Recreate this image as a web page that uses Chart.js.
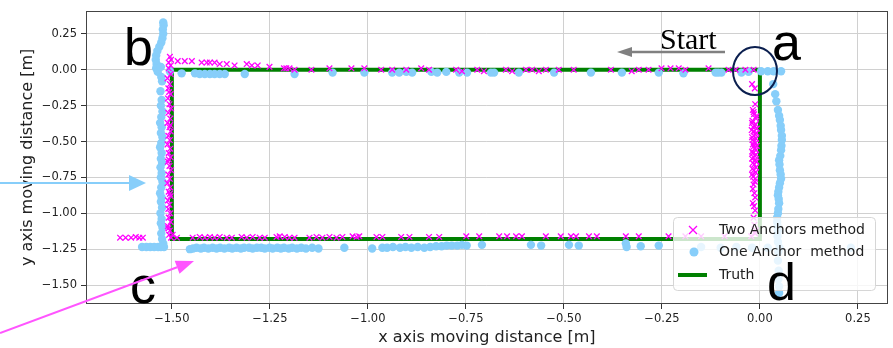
<!DOCTYPE html>
<html>
<head>
<meta charset="utf-8">
<script src="https://cdn.jsdelivr.net/npm/chart.js@4.4.0/dist/chart.umd.min.js"></script>
<style>
  html, body { margin: 0; padding: 0; background: #fff; }
  #wrap { width: 893px; height: 348px; position: relative; }
</style>
</head>
<body>
<div id="wrap"><canvas id="trackChart"></canvas></div>
<script>
// tick labels
const xTicks = [-1.5, -1.25, -1.0, -0.75, -0.5, -0.25, 0.0, 0.25];
const yTicks = [0.25, 0.0, -0.25, -0.5, -0.75, -1.0, -1.25, -1.5];

// ground truth rectangle
const truthPath = [[0, 0], [-1.5, 0], [-1.5, -1.18], [0, -1.18], [0, 0]];

// Two Anchors method
const twoAnchorsLeft = [
  [-1.505, 0.09], [-1.502, 0.07], [-1.508, 0.05], [-1.503, 0.03], [-1.508, 0.01], [-1.503, -0.03],
  [-1.511, -0.06], [-1.505, -0.10], [-1.509, -0.13], [-1.503, -0.17], [-1.510, -0.20], [-1.506, -0.24],
  [-1.502, -0.27], [-1.509, -0.30], [-1.504, -0.34], [-1.511, -0.37], [-1.506, -0.40], [-1.503, -0.43],
  [-1.509, -0.46], [-1.505, -0.49], [-1.511, -0.52], [-1.504, -0.55], [-1.508, -0.58], [-1.503, -0.61],
  [-1.510, -0.64], [-1.506, -0.67], [-1.502, -0.70], [-1.509, -0.73], [-1.505, -0.76], [-1.511, -0.79],
  [-1.504, -0.82], [-1.508, -0.85], [-1.503, -0.88], [-1.510, -0.91], [-1.506, -0.94], [-1.509, -0.97],
  [-1.504, -1.00], [-1.508, -1.03], [-1.503, -1.06], [-1.510, -1.09], [-1.505, -1.12], [-1.507, -1.15],
  [-1.502, -1.17], [-1.507, -0.155], [-1.504, -0.385], [-1.508, -0.625], [-1.505, -0.865], [-1.509, -1.105]
];
const twoAnchorsTop = [
  [-1.485, 0.06], [-1.467, 0.06], [-1.449, 0.06], [-1.424, 0.05], [-1.411, 0.05], [-1.403, 0.05],
  [-1.391, 0.05], [-1.378, 0.04], [-1.360, 0.04], [-1.340, 0.03], [-1.309, 0.04], [-1.296, 0.03],
  [-1.281, 0.03], [-1.251, 0.02], [-1.214, 0.01], [-1.208, 0.01], [-1.200, 0.01], [-1.187, 0.0],
  [-1.144, 0.0], [-1.098, 0.01], [-1.042, 0.01], [-1.009, 0.01], [-0.966, 0.0], [-0.938, 0.0],
  [-0.902, 0.0], [-0.864, 0.01], [-0.844, 0.0], [-0.775, 0.0], [-0.760, -0.01], [-0.721, 0.0],
  [-0.704, -0.01], [-0.648, 0.0], [-0.632, -0.01], [-0.597, 0.0], [-0.581, 0.0], [-0.564, -0.01],
  [-0.546, 0.0], [-0.513, 0.0], [-0.475, 0.0], [-0.380, 0.0], [-0.327, -0.01], [-0.309, 0.0],
  [-0.284, 0.0], [-0.251, 0.01], [-0.228, 0.01], [-0.207, 0.01], [-0.190, 0.0], [-0.131, 0.01],
  [-0.080, 0.0], [-0.062, 0.0], [-0.037, 0.0], [-0.016, 0.0]
];
const twoAnchorsRight = [
  [-0.020, -0.10], [-0.013, -0.13], [-0.012, -0.24], [-0.018, -0.28], [-0.015, -0.31], [-0.010, -0.34],
  [-0.020, -0.37], [-0.014, -0.39], [-0.008, -0.41], [-0.016, -0.43], [-0.012, -0.45], [-0.020, -0.47],
  [-0.010, -0.48], [-0.015, -0.50], [-0.018, -0.52], [-0.008, -0.53], [-0.013, -0.55], [-0.020, -0.57],
  [-0.010, -0.59], [-0.016, -0.61], [-0.012, -0.63], [-0.018, -0.65], [-0.010, -0.68], [-0.015, -0.70],
  [-0.020, -0.73], [-0.012, -0.76], [-0.016, -0.80], [-0.014, -0.86], [-0.018, -0.93], [-0.012, -0.98],
  [-0.016, -1.03], [-0.014, -1.08], [-0.010, -1.12],
  [-0.016, -0.295], [-0.009, -0.325], [-0.019, -0.355], [-0.011, -0.38], [-0.017, -0.40], [-0.021, -0.42],
  [-0.009, -0.44], [-0.015, -0.46], [-0.019, -0.49], [-0.011, -0.51], [-0.016, -0.535], [-0.010, -0.56],
  [-0.018, -0.58], [-0.013, -0.60], [-0.020, -0.62], [-0.009, -0.64], [-0.014, -0.66], [-0.019, -0.69],
  [-0.011, -0.715], [-0.017, -0.745], [-0.013, -0.78], [-0.018, -0.83], [-0.012, -0.89], [-0.015, -0.95]
];
const twoAnchorsBottom = [
  [-1.632, -1.17], [-1.618, -1.17], [-1.604, -1.17], [-1.592, -1.165], [-1.583, -1.17], [-1.574, -1.17],
  [-1.498, -1.15], [-1.487, -1.17], [-1.447, -1.17], [-1.429, -1.165], [-1.416, -1.17], [-1.403, -1.165],
  [-1.391, -1.17], [-1.378, -1.165], [-1.360, -1.17], [-1.347, -1.17], [-1.322, -1.165], [-1.309, -1.17],
  [-1.294, -1.165], [-1.276, -1.17], [-1.263, -1.17], [-1.233, -1.165], [-1.225, -1.16], [-1.212, -1.165],
  [-1.200, -1.17], [-1.187, -1.17], [-1.149, -1.17], [-1.131, -1.165], [-1.116, -1.17], [-1.098, -1.165],
  [-1.080, -1.17], [-1.065, -1.165], [-1.039, -1.16], [-1.029, -1.165], [-1.022, -1.16], [-0.978, -1.165],
  [-0.963, -1.165], [-0.915, -1.165], [-0.894, -1.165], [-0.844, -1.165], [-0.818, -1.165], [-0.749, -1.16],
  [-0.716, -1.16], [-0.665, -1.16], [-0.645, -1.16], [-0.622, -1.16], [-0.607, -1.16], [-0.546, -1.16],
  [-0.508, -1.16], [-0.482, -1.16], [-0.469, -1.16], [-0.436, -1.16], [-0.416, -1.16], [-0.342, -1.16],
  [-0.309, -1.16], [-0.233, -1.16], [-0.190, -1.16], [-0.150, -1.16], [-0.090, -1.16], [-0.022, -1.16],
  [-0.012, -1.14]
];

// One Anchor method
const oneAnchorLeft = [
  [-1.522, 0.33], [-1.521, 0.31], [-1.523, 0.28], [-1.522, 0.25], [-1.524, 0.22], [-1.527, 0.19],
  [-1.532, 0.16], [-1.537, 0.13], [-1.540, 0.10], [-1.541, 0.07], [-1.539, 0.04], [-1.540, 0.01],
  [-1.536, -0.015], [-1.528, 0.02], [-1.527, -0.05], [-1.525, -0.08], [-1.529, -0.15], [-1.526, -0.21],
  [-1.528, -0.25], [-1.524, -0.29], [-1.527, -0.33], [-1.530, -0.37], [-1.526, -0.40], [-1.528, -0.44],
  [-1.524, -0.47], [-1.527, -0.51], [-1.530, -0.54], [-1.526, -0.58], [-1.528, -0.62], [-1.525, -0.65],
  [-1.529, -0.68], [-1.526, -0.72], [-1.528, -0.75], [-1.524, -0.78], [-1.527, -0.82], [-1.530, -0.86],
  [-1.526, -0.89], [-1.528, -0.92], [-1.525, -0.96], [-1.529, -1.00], [-1.526, -1.04], [-1.528, -1.07],
  [-1.524, -1.10], [-1.527, -1.14], [-1.525, -1.18], [-1.522, -1.21], [-1.520, -1.235]
];
const oneAnchorTop = [
  [-1.505, -0.01], [-1.475, -0.025], [-1.441, -0.025], [-1.429, -0.03], [-1.416, -0.03], [-1.403, -0.03],
  [-1.391, -0.03], [-1.378, -0.03], [-1.365, -0.03], [-1.314, -0.03], [-1.187, -0.03], [-1.090, -0.02],
  [-1.009, -0.02], [-0.938, -0.02], [-0.920, -0.02], [-0.902, -0.015], [-0.887, -0.02], [-0.838, -0.015],
  [-0.823, -0.02], [-0.800, -0.015], [-0.767, -0.02], [-0.747, -0.02], [-0.686, -0.02], [-0.678, -0.02],
  [-0.615, -0.02], [-0.525, -0.02], [-0.431, -0.02], [-0.352, -0.02], [-0.258, -0.02], [-0.195, -0.025],
  [-0.113, -0.02], [-0.106, -0.02], [-0.098, -0.02], [-0.047, -0.02], [-0.029, -0.015], [0.003, -0.01],
  [0.020, -0.01], [0.035, -0.01], [0.054, -0.01]
];
const oneAnchorRight = [
  [0.034, -0.10], [0.039, -0.17], [0.042, -0.22], [0.046, -0.28], [0.049, -0.32], [0.051, -0.35],
  [0.053, -0.39], [0.054, -0.42], [0.056, -0.46], [0.056, -0.49], [0.055, -0.53], [0.054, -0.56],
  [0.052, -0.60], [0.049, -0.63], [0.050, -0.66], [0.051, -0.70], [0.053, -0.73], [0.054, -0.76],
  [0.051, -0.79], [0.049, -0.82], [0.047, -0.85], [0.046, -0.875], [0.048, -0.90], [0.049, -0.93],
  [0.047, -0.97], [0.046, -1.00], [0.044, -1.03], [0.044, -1.06], [0.045, -1.09], [0.046, -1.12],
  [0.045, -1.16], [0.046, -1.20], [0.047, -1.27], [0.046, -1.33], [0.048, -1.40], [0.047, -1.46],
  [0.049, -1.51], [0.049, -1.555]
];
const oneAnchorBottom = [
  [-1.576, -1.235], [-1.565, -1.235], [-1.555, -1.235], [-1.545, -1.235], [-1.535, -1.235], [-1.528, -1.235],
  [-1.454, -1.25], [-1.446, -1.245], [-1.437, -1.24], [-1.426, -1.245], [-1.418, -1.24], [-1.407, -1.245],
  [-1.396, -1.24], [-1.386, -1.245], [-1.377, -1.24], [-1.366, -1.245], [-1.354, -1.24], [-1.346, -1.245],
  [-1.335, -1.24], [-1.324, -1.245], [-1.316, -1.24], [-1.303, -1.24], [-1.294, -1.245], [-1.283, -1.24],
  [-1.272, -1.24], [-1.263, -1.245], [-1.251, -1.24], [-1.243, -1.245], [-1.231, -1.24], [-1.222, -1.245],
  [-1.214, -1.24], [-1.202, -1.245], [-1.193, -1.24], [-1.181, -1.245], [-1.170, -1.24], [-1.158, -1.245],
  [-1.142, -1.24], [-1.126, -1.245], [-1.060, -1.24], [-0.989, -1.245], [-0.963, -1.24], [-0.951, -1.24],
  [-0.936, -1.235], [-0.918, -1.24], [-0.904, -1.235], [-0.889, -1.24], [-0.873, -1.235], [-0.856, -1.24],
  [-0.841, -1.235], [-0.826, -1.23], [-0.812, -1.23], [-0.799, -1.225], [-0.786, -1.225], [-0.772, -1.225],
  [-0.760, -1.22], [-0.748, -1.225], [-0.709, -1.22], [-0.584, -1.22], [-0.558, -1.225], [-0.487, -1.22],
  [-0.462, -1.225], [-0.342, -1.21], [-0.340, -1.235], [-0.304, -1.23], [-0.258, -1.225], [-0.150, -1.235],
  [-0.100, -1.24], [-0.060, -1.235], [-0.020, -1.24], [0.020, -1.24], [0.050, -1.24], [0.232, -1.24]
];

const toXY = arr => arr.map(p => ({ x: p[0], y: p[1] }));
const fmt = v => (v < 0 ? '\u2212' : '') + Math.abs(v).toFixed(2);

function arrow(ctx, x1, y1, x2, y2, color, width, headLen, headW) {
  const ang = Math.atan2(y2 - y1, x2 - x1);
  const bx = x2 - headLen * Math.cos(ang), by = y2 - headLen * Math.sin(ang);
  ctx.save();
  ctx.strokeStyle = color; ctx.fillStyle = color; ctx.lineWidth = width;
  ctx.beginPath(); ctx.moveTo(x1, y1); ctx.lineTo(bx, by); ctx.stroke();
  ctx.beginPath();
  ctx.moveTo(x2, y2);
  ctx.lineTo(bx + headW * Math.sin(ang), by - headW * Math.cos(ang));
  ctx.lineTo(bx - headW * Math.sin(ang), by + headW * Math.cos(ang));
  ctx.closePath(); ctx.fill();
  ctx.restore();
}

// frame, legend and the hand-drawn annotations on top
const overlay = {
  id: 'overlay',
  afterDatasetsDraw(chart) {
    const { ctx, chartArea: a } = chart;
    ctx.save();
    ctx.strokeStyle = '#444'; ctx.lineWidth = 1;
    ctx.strokeRect(Math.round(a.left) + 0.5, Math.round(a.top) + 0.5,
      Math.round(a.right - a.left) - 1, Math.round(a.bottom - a.top) - 1);

    // legend
    const lx = 673, ly = 217, lw = 202, lh = 73;
    ctx.beginPath(); ctx.roundRect(lx + 0.5, ly + 0.5, lw, lh, 4);
    ctx.fillStyle = 'rgba(255,255,255,0.8)'; ctx.fill();
    ctx.strokeStyle = '#d6d6d6'; ctx.stroke();
    const ds = chart.data.datasets;
    const rows = [230, 252, 275];
    ctx.font = '14px "DejaVu Sans"'; ctx.textBaseline = 'middle'; ctx.fillStyle = '#222';
    ds.forEach((d, i) => {
      const cy = rows[i];
      if (i === 0) {
        ctx.strokeStyle = d.borderColor; ctx.lineWidth = d.borderWidth;
        ctx.beginPath();
        ctx.moveTo(689, cy - 4); ctx.lineTo(697, cy + 4);
        ctx.moveTo(697, cy - 4); ctx.lineTo(689, cy + 4); ctx.stroke();
      } else if (i === 1) {
        ctx.fillStyle = d.backgroundColor;
        ctx.beginPath(); ctx.arc(694, cy, 4.5, 0, Math.PI * 2); ctx.fill();
      } else {
        ctx.strokeStyle = d.borderColor; ctx.lineWidth = d.borderWidth;
        ctx.beginPath(); ctx.moveTo(678, cy); ctx.lineTo(707, cy); ctx.stroke();
      }
      ctx.fillStyle = '#222';
      ctx.fillText(d.label, 719, cy);
    });
    ctx.restore();
  },
  afterDraw(chart) {
    const { ctx } = chart;
    ctx.save();
    // corner letters
    ctx.fillStyle = '#000'; ctx.textBaseline = 'alphabetic';
    ctx.font = '52px "Liberation Sans"';
    ctx.fillText('b', 124, 65);
    ctx.fillText('c', 130, 303);
    ctx.fillText('a', 772, 60);
    ctx.fillText('d', 767, 300);
    // start label
    ctx.font = '30px "Liberation Serif"';
    ctx.fillText('Start', 660, 49);
    arrow(ctx, 725, 52, 617, 52, '#808080', 2.5, 15, 5);
    // circle around the start point
    ctx.strokeStyle = '#0b1f4f'; ctx.lineWidth = 2;
    ctx.beginPath(); ctx.ellipse(755, 71, 22, 24, 0, 0, Math.PI * 2); ctx.stroke();
    // pointer arrows
    arrow(ctx, 0, 183, 146, 183, '#87cefa', 2, 17, 8);
    arrow(ctx, 0, 333, 194, 261, '#ff55ff', 2, 18, 7);
    ctx.restore();
  }
};

const axisFont = { family: '"DejaVu Sans"', size: 11.5 };

new Chart(document.getElementById('trackChart'), {
  type: 'scatter',
  data: {
    datasets: [
      {
        label: 'Two Anchors method',
        data: toXY([...twoAnchorsLeft, ...twoAnchorsTop, ...twoAnchorsRight, ...twoAnchorsBottom]),
        pointStyle: 'crossRot',
        pointRadius: 4,
        borderColor: '#ff00ff',
        borderWidth: 1.3,
        showLine: false
      },
      {
        label: 'One Anchor  method',
        data: toXY([...oneAnchorLeft, ...oneAnchorTop, ...oneAnchorRight, ...oneAnchorBottom]),
        pointStyle: 'circle',
        pointRadius: 4.2,
        backgroundColor: '#87cefa',
        borderWidth: 0,
        showLine: false
      },
      {
        label: 'Truth',
        data: toXY(truthPath),
        showLine: true,
        pointRadius: 0,
        borderColor: '#008000',
        borderWidth: 4,
        fill: false
      }
    ]
  },
  options: {
    responsive: true,
    maintainAspectRatio: false,
    animation: false,
    layout: { padding: { top: 10, right: 3, left: 0, bottom: 0 } },
    plugins: { legend: { display: false }, tooltip: { enabled: false } },
    scales: {
      x: {
        type: 'linear',
        min: -1.719,
        max: 0.326,
        afterBuildTicks: s => { s.ticks = xTicks.map(v => ({ value: v })); },
        afterFit: s => { s.height = 44; },
        ticks: { font: axisFont, color: '#222', padding: 3, maxRotation: 0, callback: v => fmt(v) },
        grid: { color: '#d0d0d0', tickColor: '#333', tickLength: 5 },
        border: { display: false },
        title: { display: true, text: 'x axis moving distance [m]', color: '#222',
          font: { family: '"DejaVu Sans"', size: 16 }, padding: { top: 0, bottom: 1 } }
      },
      y: {
        type: 'linear',
        min: -1.632,
        max: 0.41,
        afterBuildTicks: s => { s.ticks = yTicks.map(v => ({ value: v })); },
        afterFit: s => { s.width = 86; },
        ticks: { font: axisFont, color: '#222', padding: 4, callback: v => fmt(v) },
        grid: { color: '#d0d0d0', tickColor: '#333', tickLength: 5 },
        border: { display: false },
        title: { display: true, text: 'y axis moving distance [m]', color: '#222',
          font: { family: '"DejaVu Sans"', size: 16 }, padding: { top: 18, bottom: 0 } }
      }
    }
  },
  plugins: [overlay]
});
</script>
</body>
</html>
